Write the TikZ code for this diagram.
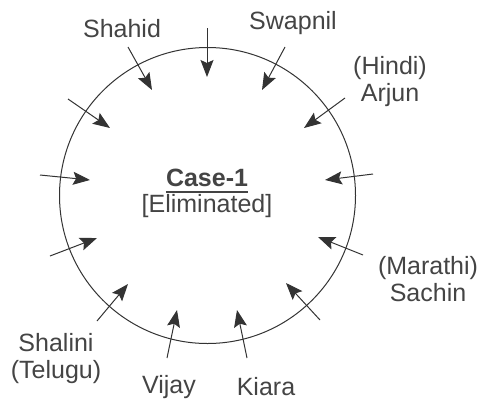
\documentclass[tikz,border=0pt]{standalone}
\usepackage{fontspec}
\setmainfont{Liberation Sans}
\usetikzlibrary{arrows.meta}
\definecolor{txt}{HTML}{444444}
\definecolor{ln}{HTML}{333333}
\tikzset{
  lbl/.style={text=txt, font=\fontsize{25}{27}\selectfont, align=center, inner sep=0pt},
  inarrow/.style={draw=ln, line width=1pt, -{Stealth[length=17pt,width=13pt,inset=3pt]}},
  ring/.style={draw=ln, line width=1pt}
}
\begin{document}
\begin{tikzpicture}[x=1pt,y=-1pt]
\useasboundingbox (0,0) rectangle (481,402);
\node[ring, circle, minimum size=296pt, inner sep=0pt] (c) at (207.5,195.5) {};
\node[lbl] (case) at (207,178) {\textbf{Case-1}};
\draw[txt, line width=1.2pt] ([yshift=-5pt]case.south west) -- ([yshift=-5pt]case.south east);
\node[lbl] (elim) at (207,206) {[Eliminated]};
% labels
\node[lbl] (shahid) at (122,29) {Shahid};
\node[lbl] (swapnil) at (293,23) {Swapnil};
\node[lbl] (arjun) at (390,82) {(Hindi)\\Arjun};
\node[lbl] (sachin) at (428,279) {(Marathi)\\Sachin};
\node[lbl] (shalini) at (56,359) {Shalini\\(Telugu)};
\node[lbl] (vijay) at (169,387) {Vijay};
\node[lbl] (kiara) at (266,387) {Kiara};
% arrow ends
\coordinate (a1s) at (207,28);  \coordinate (a1e) at (207,77);
\coordinate (a2s) at (128,47);  \coordinate (a2e) at (152,90);
\coordinate (a3s) at (285,47);  \coordinate (a3e) at (262,90);
\coordinate (a4s) at (345,98);  \coordinate (a4e) at (304,128);
\coordinate (a5s) at (373,174); \coordinate (a5e) at (325,180);
\coordinate (a6s) at (363,255); \coordinate (a6e) at (318,237);
\coordinate (a7s) at (320,320); \coordinate (a7e) at (286,283);
\coordinate (a8s) at (247,358); \coordinate (a8e) at (237,310);
\coordinate (a9s) at (167,358); \coordinate (a9e) at (177,310);
\coordinate (a10s) at (97,321); \coordinate (a10e) at (128,284);
\coordinate (a11s) at (50,256); \coordinate (a11e) at (97,238);
\coordinate (a12s) at (40,175); \coordinate (a12e) at (90,180);
\coordinate (a13s) at (68,99);  \coordinate (a13e) at (110,128);
\foreach \i in {1,...,13} {\draw[inarrow] (a\i s) -- (a\i e);}
\end{tikzpicture}
\end{document}
